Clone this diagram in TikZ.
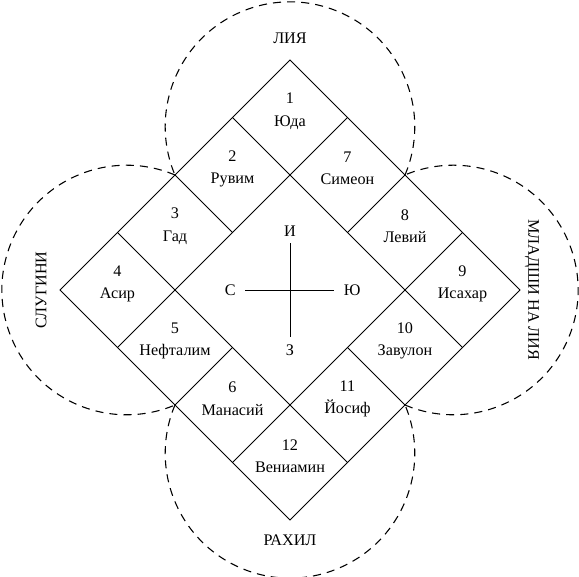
\documentclass[tikz,border=0pt]{standalone}
\usepackage{fontspec}
\setmainfont{Liberation Serif}
\begin{document}
\begin{tikzpicture}[scale=1.5, line width=0.7pt,
    cell/.style={align=center, font=\fontsize{12}{16.5}\selectfont},
    side/.style={font=\fontsize{12}{14}\selectfont},
    axis/.style={font=\fontsize{12}{14}\selectfont, inner xsep=7pt, inner ysep=5pt},
    ring/.style={dash pattern=on 6pt off 4.5pt, line width=0.8pt}]
    \useasboundingbox (-5.043,-4.974) rectangle (5.026,5.043);

    % big square and its cells
    \draw (90:4) -- (0:4) -- (-90:4) -- (180:4) -- cycle;
    \draw (1,3) -- (-3,-1);
    \draw (3,1) -- (-1,-3);
    \draw (-1,3) -- (3,-1);
    \draw (-3,1) -- (1,-3);
    \draw (2,2) -- (1,1);
    \draw (-1,-1) -- (-2,-2);
    \draw (-2,2) -- (-1,1);
    \draw (1,-1) -- (2,-2);

    % the four groups, only outside
    \foreach \a in {0,90,180,270}
      \draw[ring, rotate=\a] (2,2) arc[start angle=-22.8, end angle=202.8, radius=2.17];

    \node[cell] (c1) at (0,3.11) {1\\Юда};
    \node[cell] (c2) at (-1,2.11) {2\\Рувим};
    \node[cell] (c3) at (-2,1.11) {3\\Гад};
    \node[cell] (c4) at (-3,0.11) {4\\Асир};
    \node[cell] (c5) at (-2,-0.89) {5\\Нефталим};
    \node[cell] (c6) at (-1,-1.89) {6\\Манасий};
    \node[cell] (c7) at (1,2.11) {7\\Симеон};
    \node[cell] (c8) at (2,1.11) {8\\Левий};
    \node[cell] (c9) at (3,0.11) {9\\Исахар};
    \node[cell] (c10) at (2,-0.89) {10\\Завулон};
    \node[cell] (c11) at (1,-1.89) {11\\Йосиф};
    \node[cell] (c12) at (0,-2.89) {12\\Вениамин};

    % cross in the middle
    \node[axis] (ni) at (0,1.03) {И};
    \node[axis] (zs) at (0,-1.04) {З};
    \node[axis] (sl) at (-1.04,0) {С};
    \node[axis] (yu) at (1.08,0) {Ю};
    \draw (ni) -- (zs);
    \draw (sl) -- (yu);

    \node[side] (lia) at (0,4.38) {ЛИЯ};
    \node[side] (rahil) at (0,-4.35) {РАХИЛ};
    \node[side, rotate=90] (slugini) at (-4.33,0) {СЛУГИНИ};
    \node[side, rotate=-90] (mladshi) at (4.21,0) {МЛАДШИ НА ЛИЯ};
\end{tikzpicture}
\end{document}
